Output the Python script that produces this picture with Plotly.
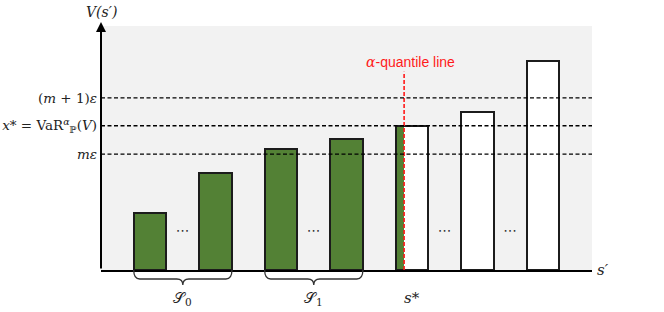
import plotly.graph_objects as go

# ---------------- data ----------------
positions = [0, 1, 2, 3, 4, 5, 6]
bar_values = [0.99, 1.68, 2.08, 2.26, 2.49, 2.72, 3.60]
green_idx = [0, 1, 2, 3]          # bars fully inside the alpha-quantile set
star_idx = 4                      # s* bar (partly green)
white_idx = [4, 5, 6]
m_eps = 2.0
x_star = 2.49
m1_eps = 2.97
tick_vals = [m_eps, x_star, m1_eps]
tick_text = ["<i>mε</i>",
             "<i>x</i>* = VaR<sup><i>α</i></sup><sub>ℙ</sub>(<i>V</i>)",
             "(<i>m</i> + 1)<i>ε</i>"]
quantile_x = 3.88
quantile_top = 3.42
dots_x = [0.5, 2.5, 4.5, 5.5]
dots_y = [0.66, 0.66, 0.66, 0.66]
group_labels = ["𝒮<sub>0</sub>", "𝒮<sub>1</sub>", "<i>s</i>*"]
group_label_x = [0.5, 2.5, 4.0]
brace_groups = [(0, 1), (2, 3)]

# ---------------- style ----------------
GREEN = "#538135"
EDGE = "#1c1c1c"
BW = 0.5
xmin, xmax = -0.75, 6.75
ymax = 4.21
SERIF = "DejaVu Serif"

fig = go.Figure()

# white bars (drawn first)
fig.add_trace(go.Bar(
    x=[positions[i] for i in white_idx], y=[bar_values[i] for i in white_idx],
    width=BW, marker=dict(color="white", line=dict(color=EDGE, width=2)),
    hoverinfo="skip", showlegend=False))

# green bars + partial green part of s*
g_x = [positions[i] for i in green_idx] + [positions[star_idx]]
g_y = [bar_values[i] for i in green_idx] + [bar_values[star_idx]]
part_w = quantile_x - (positions[star_idx] - BW / 2)
fig.add_trace(go.Bar(
    x=g_x, y=g_y,
    width=[BW] * len(green_idx) + [part_w],
    offset=[-BW / 2] * len(g_x),
    marker=dict(color=GREEN, line=dict(color=EDGE, width=[2] * len(green_idx) + [0])),
    hoverinfo="skip", showlegend=False))

# outline of s* bar on top
fig.add_trace(go.Bar(
    x=[positions[star_idx]], y=[bar_values[star_idx]], width=BW,
    marker=dict(color="rgba(0,0,0,0)", line=dict(color=EDGE, width=2)),
    hoverinfo="skip", showlegend=False))

# alpha-quantile line
fig.add_trace(go.Scatter(
    x=[quantile_x, quantile_x], y=[0, quantile_top], mode="lines",
    line=dict(color="#ff1a1a", width=1.6, dash="4px,2px"),
    hoverinfo="skip", showlegend=False))

# dots
fig.add_trace(go.Scatter(
    x=dots_x, y=dots_y, mode="text", text=["⋯"] * len(dots_x),
    textfont=dict(family="DejaVu Sans", size=14, color="#333"),
    hoverinfo="skip", showlegend=False))

# dashed horizontal levels
for v in tick_vals:
    fig.add_hline(y=v, line=dict(color="black", width=1.4, dash="4px,2.5px"))

# braces (paper coordinates derived from data positions)
def xp(v):
    return (v - xmin) / (xmax - xmin)

PW, PH = 491.0, 244.0
r = 6 / PW
h1 = 9 / PH
h2 = 15 / PH
for a, b in brace_groups:
    x0 = xp(positions[a] - BW / 2)
    x1 = xp(positions[b] + BW / 2)
    xm = (x0 + x1) / 2
    path = (f"M {x0},0 Q {x0},{-h1} {x0 + r},{-h1} L {xm - r},{-h1} "
            f"Q {xm},{-h1} {xm},{-h2} Q {xm},{-h1} {xm + r},{-h1} "
            f"L {x1 - r},{-h1} Q {x1},{-h1} {x1},0")
    fig.add_shape(type="path", path=path, xref="paper", yref="paper",
                  line=dict(color="#333", width=1.3))

# group labels
for lab, gx in zip(group_labels, group_label_x):
    fig.add_annotation(x=gx, y=-28 / PH, xref="x", yref="paper", text=lab,
                       showarrow=False, font=dict(family=SERIF, size=15, color="#222"),
                       yanchor="middle")

# y axis arrow
fig.add_annotation(x=xmin, y=1 + 4 / PH, xref="x", yref="paper",
                   ax=0, ay=248, axref="pixel", ayref="pixel",
                   showarrow=True, arrowhead=2, arrowsize=1, arrowwidth=2,
                   arrowcolor="black", text="")

# axis titles
fig.add_annotation(x=xmin, y=1 + 14 / PH, xref="x", yref="paper",
                   text="<i>V(s′)</i>", showarrow=False, yanchor="middle",
                   font=dict(family=SERIF, size=14, color="#222"))
fig.add_annotation(x=1.0, y=0, xref="paper", yref="paper", xshift=19,
                   text="<i>s′</i>", showarrow=False, yanchor="middle",
                   font=dict(family=SERIF, size=15, color="#222"))

# alpha-quantile label
fig.add_annotation(x=quantile_x, y=quantile_top, xref="x", yref="y", yshift=10,
                   xshift=6, text="<span style='font-family:DejaVu Serif'><i>α</i></span>-quantile line",
                   showarrow=False, yanchor="middle",
                   font=dict(family="Liberation Sans", size=14, color="#ff1a1a"))

fig.update_layout(
    width=664, height=312,
    margin=dict(l=101, r=72, t=26, b=42, autoexpand=False),
    paper_bgcolor="white", plot_bgcolor="#f2f2f2",
    barmode="overlay", bargap=0,
    xaxis=dict(range=[xmin, xmax], showgrid=False, zeroline=False,
               showticklabels=False, ticks="", showline=True, automargin=False,
               linecolor="black", linewidth=2, fixedrange=True),
    yaxis=dict(range=[0, ymax], showgrid=False, zeroline=False,
               tickvals=tick_vals, ticktext=tick_text, ticks="", automargin=False,
               ticklabelstandoff=3,
               tickfont=dict(family=SERIF, size=13.5, color="#222"),
               showline=False, fixedrange=True),
)

fig.write_html("out.html", config={"displayModeBar": False},
               post_script="document.body.style.margin='0';")
